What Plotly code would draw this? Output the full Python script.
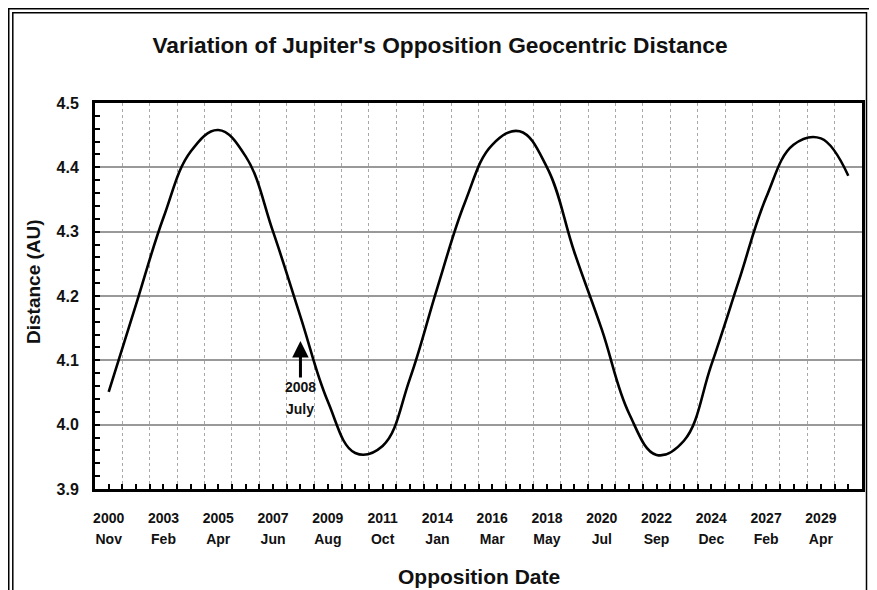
import plotly.graph_objects as go

# ---- data ----
distance_au = [4.051, 4.187, 4.322, 4.425, 4.458, 4.417, 4.300, 4.168, 4.036, 3.956,
               3.967, 4.072, 4.213, 4.345, 4.435, 4.456, 4.400, 4.268, 4.148, 4.017,
               3.953, 3.975, 4.093, 4.223, 4.353, 4.435, 4.445, 4.387]
tick_years = ["2000", "2003", "2005", "2007", "2009", "2011", "2014",
              "2016", "2018", "2020", "2022", "2024", "2027", "2029"]
tick_months = ["Nov", "Feb", "Apr", "Jun", "Aug", "Oct", "Jan",
               "Mar", "May", "Jul", "Sep", "Dec", "Feb", "Apr"]
note_index = 7
note_value = 4.130
note_year = "2008"
note_month = "July"

title_text = "Variation of Jupiter's Opposition Geocentric Distance"
x_title = "Opposition Date"
y_title = "Distance (AU)"

# ---- derived positions (opposition index) ----
n = len(distance_au)
x_idx = list(range(n))
label_vals = list(range(0, n, 2))[:len(tick_years)]
all_int_vals = list(range(n))
all_int_text = []
for i in all_int_vals:
    all_int_text.append(tick_years[i // 2] if (i % 2 == 0 and i // 2 < len(tick_years)) else "")
half_vals = [i + 0.5 for i in range(n - 1)]

FONT = "Liberation Sans, Arial, sans-serif"
OFF = 8  # page body margin of the html page
W, H = 877 - OFF, 590 - OFF
# plot area in window pixels: x 95..862, y 103..489
ML, MT = 95 - OFF, 103 - OFF
MR = W - (862 - OFF)
MB = H - (489 - OFF)
PW, PH = W - ML - MR, H - MT - MB

def px(xw):
    return (xw - OFF - ML) / PW

def py(yw):
    return (H - MB - (yw - OFF)) / PH

fig = go.Figure()
fig.add_trace(go.Scatter(
    x=x_idx, y=distance_au, mode="lines",
    line=dict(color="black", width=2.6, shape="spline", smoothing=1.15),
    showlegend=False, hoverinfo="skip"))
# carrier trace for the second label row
fig.add_trace(go.Scatter(
    x=x_idx, y=distance_au, mode="lines", xaxis="x2",
    line=dict(color="rgba(0,0,0,0)", width=0),
    showlegend=False, hoverinfo="skip"))

xrange = [-0.5, n - 0.5]
fig.update_layout(
    width=W, height=H,
    margin=dict(l=ML, r=MR, t=MT, b=MB, autoexpand=False),
    paper_bgcolor="white", plot_bgcolor="white",
    font=dict(family=FONT, color="black"),
    title=dict(text="<b>" + title_text + "</b>", x=(440 - OFF) / W, y=1 - (45 - OFF) / H,
               xanchor="center", yanchor="middle", xref="container", yref="container",
               font=dict(size=22.7, family=FONT, color="#111")),
    xaxis=dict(
        range=xrange, tickmode="array", tickvals=all_int_vals, ticktext=all_int_text,
        ticks="inside", ticklen=5, tickwidth=2, tickcolor="black",
        showgrid=False, zeroline=False, automargin=False,
        showline=True, linecolor="black", linewidth=3, mirror=True,
        tickfont=dict(size=14, family=FONT, color="#111", weight="bold"),
        ticklabelstandoff=14,
        minor=dict(tickmode="array", tickvals=half_vals, ticks="inside", ticklen=5,
                   tickwidth=2, tickcolor="black", showgrid=True,
                   gridcolor="#a8a8a8", griddash="dot", gridwidth=1),
    ),
    xaxis2=dict(
        range=xrange, overlaying="x", anchor="y", side="bottom",
        tickmode="array", tickvals=label_vals, ticktext=tick_months,
        ticks="", showgrid=False, zeroline=False, showline=False, automargin=False,
        tickfont=dict(size=14, family=FONT, color="#111", weight="bold"),
        ticklabelstandoff=40,
    ),
    yaxis=dict(
        range=[3.9, 4.5], tickmode="linear", tick0=3.9, dtick=0.1, tickformat=".1f",
        ticks="inside", ticklen=5, tickwidth=2, tickcolor="black",
        showgrid=True, gridcolor="#999999", gridwidth=2, zeroline=False, automargin=False,
        showline=True, linecolor="black", linewidth=3, mirror=True,
        tickfont=dict(size=16, family=FONT, color="#111", weight="bold"),
        ticklabelstandoff=10,
        minor=dict(dtick=0.02, tick0=3.9, ticks="inside", ticklen=5, tickwidth=2,
                   tickcolor="black", showgrid=False),
    ),
    showlegend=False,
)

# axis titles
fig.add_annotation(text="<b>" + y_title + "</b>", xref="paper", yref="paper",
                   x=px(33), y=py(282), textangle=-90, showarrow=False,
                   xanchor="center", yanchor="middle",
                   font=dict(size=19, family=FONT, color="#111"))
fig.add_annotation(text="<b>" + x_title + "</b>", xref="paper", yref="paper",
                   x=0.5, y=py(576), showarrow=False,
                   xanchor="center", yanchor="middle",
                   font=dict(size=21, family=FONT, color="#111"))

# 2008 July marker: arrow with year, month on its own line below
fig.add_annotation(text="<b>" + note_year + "</b>", x=note_index, y=note_value,
                   xref="x", yref="y", showarrow=True, ax=0, ay=46,
                   arrowhead=2, arrowsize=1.1, arrowwidth=3, arrowcolor="black",
                   font=dict(size=14, family=FONT, color="#111"))
fig.add_annotation(text="<b>" + note_month + "</b>", x=note_index, y=note_value,
                   xref="x", yref="y", showarrow=False, yshift=-68,
                   xanchor="center", yanchor="middle",
                   font=dict(size=14, family=FONT, color="#111"))

# double outer frame (cropped at the bottom)
fig.add_shape(type="rect", xref="paper", yref="paper",
              x0=px(8.0), x1=px(871), y0=py(640), y1=py(8.0),
              line=dict(color="black", width=3), fillcolor="rgba(0,0,0,0)", layer="above")
fig.add_shape(type="rect", xref="paper", yref="paper",
              x0=px(12.8), x1=px(866.5), y0=py(640), y1=py(12.8),
              line=dict(color="black", width=1.5), fillcolor="rgba(0,0,0,0)", layer="above")

fig.write_html("out.html")
